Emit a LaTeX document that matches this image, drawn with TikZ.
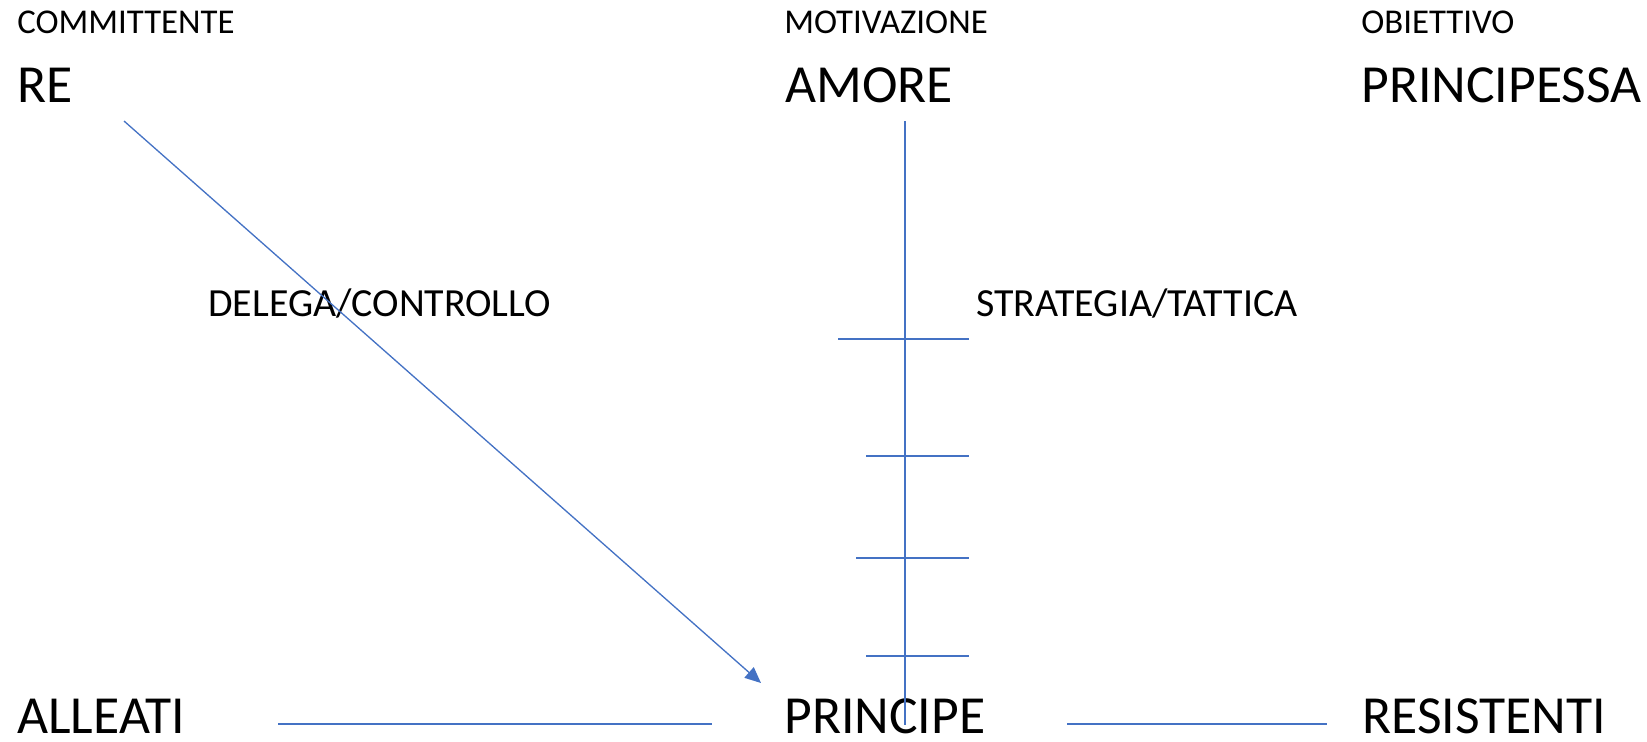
\documentclass[tikz,border=0pt]{standalone}
\usepackage{fontspec}
\setmainfont{Carlito}
\usetikzlibrary{arrows.meta}
\definecolor{linea}{HTML}{4472C4}
\tikzset{
  ruolo/.style={anchor=base west, inner sep=0pt, font=\fontsize{19.8}{22}\selectfont},
  nome/.style={anchor=base west, inner sep=0pt, font=\fontsize{30.5}{34}\selectfont},
  azione/.style={anchor=base west, inner sep=0pt, font=\fontsize{22.7}{26}\selectfont},
  filo/.style={draw=linea, line width=0.75pt}
}
\begin{document}
\begin{tikzpicture}[x=0.2mm, y=-0.2mm]
\useasboundingbox (0,0) rectangle (1647,741);
% intestazioni
\node[ruolo] (committente) at (17,33) {COMMITTENTE};
\node[ruolo] (motivazione) at (784,33) {MOTIVAZIONE};
\node[ruolo] (obiettivo) at (1361,33) {OBIETTIVO};
\node[nome] (re) at (17,102) {RE};
\node[nome] (amore) at (785,102) {AMORE};
\node[nome] (principessa) at (1361,102) {PRINCIPESSA};
\node[azione] (delega) at (208,316) {DELEGA/CONTROLLO};
\node[azione] (strategia) at (976,316) {STRATEGIA/TATTICA};
\node[nome] (alleati) at (17,733) {ALLEATI};
\node[nome] (principe) at (784,733) {PRINCIPE};
\node[nome] (resistenti) at (1362,733) {RESISTENTI};
% collegamenti
\coordinate (da re) at (124,121);
\coordinate (a principe) at (761,683);
\draw[filo, -{Triangle[length=3.2mm, width=2.8mm]}] (da re) -- (a principe);
\coordinate (asse alto) at (905,121);
\coordinate (asse basso) at (905,725);
\draw[filo] (asse alto) -- (asse basso);
\foreach \y/\sx in {339/838, 456/866, 558/856, 656/866}
  \draw[filo] (\sx,\y) -- (969,\y);
\coordinate (alleati fine) at (278,724);
\coordinate (principe inizio) at (712,724);
\draw[filo] (alleati fine) -- (principe inizio);
\coordinate (principe fine) at (1067,724);
\coordinate (resistenti inizio) at (1327,724);
\draw[filo] (principe fine) -- (resistenti inizio);
\end{tikzpicture}
\end{document}
